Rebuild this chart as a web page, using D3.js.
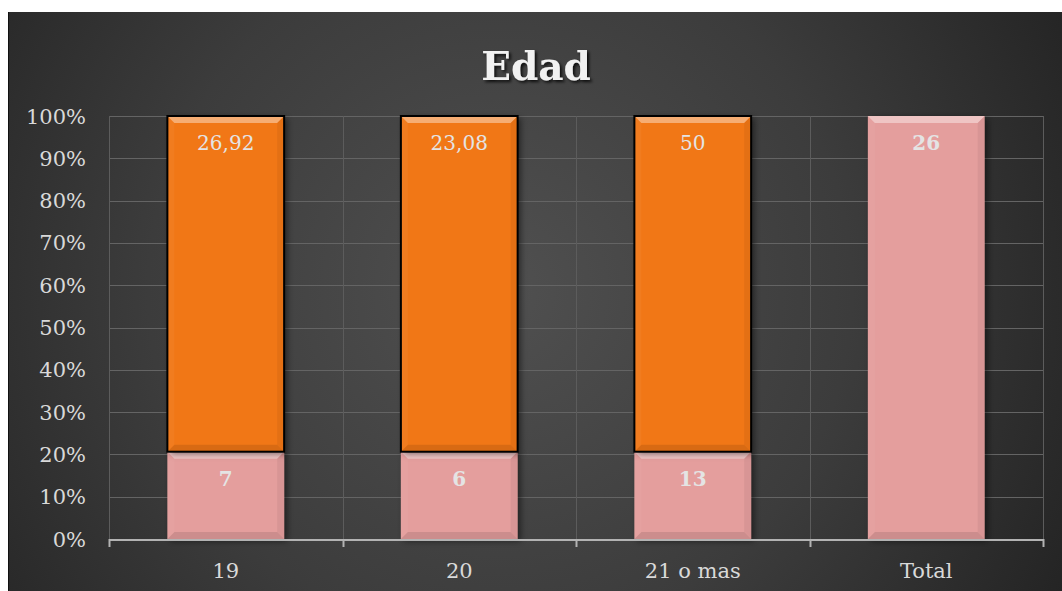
<!DOCTYPE html>
<html>
<head>
<meta charset="utf-8">
<script src="https://cdn.jsdelivr.net/npm/d3@7"></script>
<style>
  html, body { margin: 0; padding: 0; background: #fff; }
  svg { display: block; }
</style>
</head>
<body>
<svg id="chart" width="1062" height="591"></svg>
<script>
// data
const categories = ['19', '20', '21 o mas', 'Total'];
const frecuencia = [7, 6, 13, 26];          // pink, bottom
const porcentaje = [26.92, 23.08, 50, 0];   // orange, top
const yTicks = [0, 0.1, 0.2, 0.3, 0.4, 0.5, 0.6, 0.7, 0.8, 0.9, 1];

const opts = {
  width: 1062,
  height: 591,
  left: 109,
  right: 1043,
  top: 116,
  bottom: 539,
  bevel: 7,
  pink: '#e49e9d',
  orange: '#f17712',
  text: '#d9d9d9',
  font: '"DejaVu Serif", "Liberation Serif", serif',
};

const svg = d3.select('#chart');
const defs = svg.append('defs');

const bg = defs.append('radialGradient').attr('id', 'bg')
  .attr('gradientUnits', 'userSpaceOnUse')
  .attr('cx', 500).attr('cy', 290).attr('r', 640);
bg.append('stop').attr('offset', '0%').attr('stop-color', '#505050');
bg.append('stop').attr('offset', '55%').attr('stop-color', '#3c3c3c');
bg.append('stop').attr('offset', '100%').attr('stop-color', '#242424');

const shadow = defs.append('filter').attr('id', 'shadow')
  .attr('x', '-20%').attr('y', '-20%').attr('width', '150%').attr('height', '150%');
shadow.append('feDropShadow').attr('dx', 3).attr('dy', 2).attr('stdDeviation', 3)
  .attr('flood-color', '#000').attr('flood-opacity', 0.5);

const titleShadow = defs.append('filter').attr('id', 'tshadow');
titleShadow.append('feDropShadow').attr('dx', 2).attr('dy', 2).attr('stdDeviation', 1.5)
  .attr('flood-color', '#000').attr('flood-opacity', 0.8);

// chart background
svg.append('rect')
  .attr('x', 8).attr('y', 12)
  .attr('width', opts.width - 8).attr('height', opts.height - 12)
  .attr('fill', 'url(#bg)');
svg.append('line')
  .attr('x1', 8.5).attr('x2', 8.5).attr('y1', 12).attr('y2', opts.height)
  .attr('stroke', '#111').attr('stroke-width', 1);

const x = d3.scaleBand().domain(categories)
  .range([opts.left, opts.right]).paddingInner(0.5).paddingOuter(0.25);
const y = d3.scaleLinear().domain([0, 1]).range([opts.bottom, opts.top]);
const step = x.step();

// horizontal grid
svg.append('g').selectAll('line').data(yTicks).enter()
  .append('line')
  .attr('x1', opts.left).attr('x2', opts.right)
  .attr('y1', d => Math.round(y(d)) + 0.5).attr('y2', d => Math.round(y(d)) + 0.5)
  .attr('stroke', '#646464').attr('stroke-width', 1);

// vertical grid at category borders
const borders = d3.range(categories.length + 1).map(i => opts.left + i * step);
svg.append('g').selectAll('line').data(borders).enter()
  .append('line')
  .attr('x1', d => Math.round(d) + 0.5).attr('x2', d => Math.round(d) + 0.5)
  .attr('y1', opts.top).attr('y2', opts.bottom)
  .attr('stroke', '#5c5c5c').attr('stroke-width', 1);

// y axis labels
svg.append('g').selectAll('text').data(yTicks).enter()
  .append('text')
  .attr('x', 86).attr('y', d => y(d) + 7.5)
  .attr('text-anchor', 'end')
  .attr('font-family', opts.font).attr('font-size', 21)
  .attr('fill', opts.text)
  .text(d3.format('.0%'));

// stacked data (100% stacked)
const rows = categories.map((c, i) => ({ cat: c, frecuencia: frecuencia[i], porcentaje: porcentaje[i] }));
const stack = d3.stack().keys(['frecuencia', 'porcentaje']).offset(d3.stackOffsetExpand);
const series = stack(rows);
const colors = { frecuencia: opts.pink, porcentaje: opts.orange };

function bevel(g, x0, y0, w, h) {
  const b = Math.min(opts.bevel, h / 3);
  const x1 = x0 + w, y1 = y0 + h;
  g.append('polygon')
    .attr('points', [[x0, y0], [x1, y0], [x1 - b, y0 + b], [x0 + b, y0 + b]].join(' '))
    .attr('fill', '#fff').attr('opacity', 0.4);
  g.append('polygon')
    .attr('points', [[x0, y1], [x1, y1], [x1 - b, y1 - b], [x0 + b, y1 - b]].join(' '))
    .attr('fill', '#000').attr('opacity', 0.1);
  g.append('polygon')
    .attr('points', [[x1, y0], [x1, y1], [x1 - b, y1 - b], [x1 - b, y0 + b]].join(' '))
    .attr('fill', '#000').attr('opacity', 0.05);
  g.append('polygon')
    .attr('points', [[x0, y0], [x0, y1], [x0 + b, y1 - b], [x0 + b, y0 + b]].join(' '))
    .attr('fill', '#fff').attr('opacity', 0.04);
}

const fmt = v => d3.format('.4~f')(v).replace('.', ',');

series.forEach(s => {
  const g = svg.append('g').classed(s.key, true);
  s.forEach(d => {
    const val = d.data[s.key];
    if (!val) return;
    const x0 = x(d.data.cat);
    const w = x.bandwidth();
    const top = y(d[1]);
    const h = y(d[0]) - y(d[1]);
    const bar = g.append('g');
    bar.append('rect')
      .attr('x', x0).attr('y', top).attr('width', w).attr('height', h)
      .attr('fill', colors[s.key])
      .attr('filter', 'url(#shadow)');
    bevel(bar, x0, top, w, h);
    if (s.key === 'porcentaje') {
      bar.append('rect')
        .attr('x', x0).attr('y', top).attr('width', w).attr('height', h)
        .attr('fill', 'none').attr('stroke', '#000').attr('stroke-width', 2);
    }
    bar.append('text')
      .attr('x', x0 + w / 2).attr('y', top + 34)
      .attr('text-anchor', 'middle')
      .attr('font-family', opts.font).attr('font-size', 20)
      .attr('font-weight', s.key === 'frecuencia' ? 'bold' : 'normal')
      .attr('fill', '#e4e4e4')
      .text(fmt(val));
  });
});

// x axis
svg.append('line')
  .attr('x1', opts.left).attr('x2', opts.right)
  .attr('y1', opts.bottom + 1).attr('y2', opts.bottom + 1)
  .attr('stroke', '#b3b3b3').attr('stroke-width', 2);
svg.append('g').selectAll('line').data(borders).enter()
  .append('line')
  .attr('x1', d => Math.round(d) + 0.5).attr('x2', d => Math.round(d) + 0.5)
  .attr('y1', opts.bottom).attr('y2', opts.bottom + 8)
  .attr('stroke', '#b3b3b3').attr('stroke-width', 2);
svg.append('g').selectAll('text').data(categories).enter()
  .append('text')
  .attr('x', d => x(d) + x.bandwidth() / 2).attr('y', 578)
  .attr('text-anchor', 'middle')
  .attr('font-family', opts.font).attr('font-size', 21)
  .attr('fill', opts.text)
  .text(d => d);

// title
svg.append('text')
  .attr('x', 536).attr('y', 80)
  .attr('text-anchor', 'middle')
  .attr('font-family', opts.font).attr('font-size', 39).attr('font-weight', 'bold')
  .attr('fill', '#f2f2f2')
  .attr('filter', 'url(#tshadow)')
  .text('Edad');
</script>
</body>
</html>
